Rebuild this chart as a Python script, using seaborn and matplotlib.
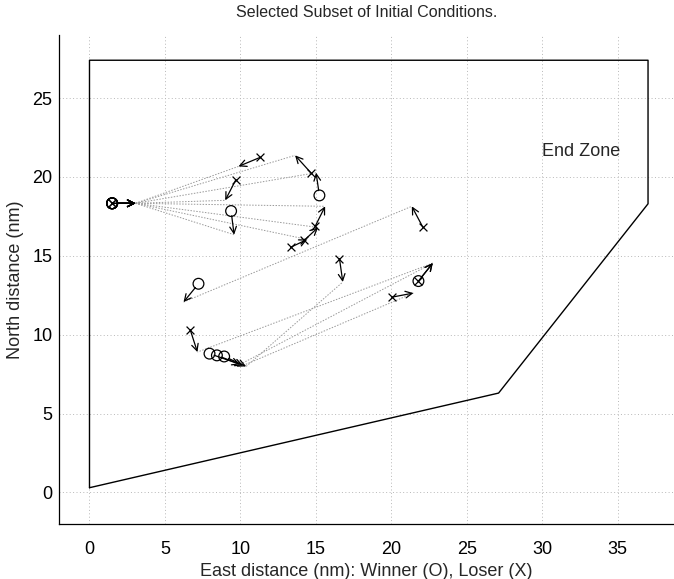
import matplotlib
matplotlib.use("Agg")
import matplotlib.pyplot as plt
import seaborn as sns
import pandas as pd

# ---- data (nm) ----
# End-zone boundary
zone_x = [0.0, 27.1, 37.0, 37.0, 0.0, 0.0]
zone_y = [0.3, 6.3, 18.3, 27.4, 27.4, 0.3]

# scenarios: winner (O) position & heading tip, loser (X) position & heading tip
win_x     = [1.50, 1.50, 9.38, 1.50, 15.23, 1.50, 1.50, 1.50, 21.79, 7.95, 8.44, 8.92, 7.22]
win_y     = [18.33, 18.33, 17.84, 18.33, 18.83, 18.33, 18.33, 18.33, 13.40, 8.80, 8.69, 8.62, 13.23]
win_tip_x = [3.05, 3.05, 9.58, 3.05, 15.01, 3.05, 3.05, 3.05, 22.74, 9.98, 10.18, 10.38, 6.23]
win_tip_y = [18.33, 18.33, 16.34, 18.33, 20.27, 18.33, 18.33, 18.33, 14.54, 8.12, 8.05, 7.99, 12.07]

los_x     = [11.30, 9.70, 1.50, 14.66, 1.50, 14.95, 14.22, 13.32, 6.67, 21.79, 20.03, 16.56, 22.08]
los_y     = [21.24, 19.83, 18.33, 20.27, 18.33, 16.87, 15.98, 15.54, 10.32, 13.40, 12.38, 14.82, 16.82]
los_tip_x = [9.87, 8.99, 3.05, 13.62, 3.05, 15.61, 15.14, 14.42, 7.15, 22.74, 21.46, 16.78, 21.35]
los_tip_y = [20.67, 18.52, 18.33, 21.37, 18.33, 18.14, 16.80, 16.04, 8.90, 14.54, 12.64, 13.34, 18.14]

x_ticks = [0, 5, 10, 15, 20, 25, 30, 35]
y_ticks = [0, 5, 10, 15, 20, 25]

sns.set_style("white")
plt.rcParams['font.family'] = ['Liberation Sans', 'DejaVu Sans']

fig = plt.figure(figsize=(6.74, 5.79), dpi=100)
ax = fig.add_axes([59.3 / 674, 55 / 579, 1 - 59.3 / 674, (524 - 35) / 579])

# grid
for xv in x_ticks:
    ax.axvline(xv, color="#b8b8b8", lw=0.7, ls=(0, (1, 2.5)), zorder=0)
for yv in y_ticks:
    ax.axhline(yv, color="#b8b8b8", lw=0.7, ls=(0, (1, 2.5)), zorder=0)

# end zone
zone = pd.DataFrame({"x": zone_x, "y": zone_y})
sns.lineplot(data=zone, x="x", y="y", sort=False, estimator=None, color="black",
             lw=1.0, ax=ax)

# line-of-sight links between heading tips
links = []
for i in range(len(win_x)):
    links.append({"x": win_tip_x[i], "y": win_tip_y[i], "id": i})
    links.append({"x": los_tip_x[i], "y": los_tip_y[i], "id": i})
links = pd.DataFrame(links)
sns.lineplot(data=links, x="x", y="y", units="id", estimator=None, sort=False,
             color="#999999", lw=0.7, ls=(0, (1.5, 1.5)), ax=ax, legend=False)

# heading arrows
for i in range(len(win_x)):
    ax.annotate("", xy=(win_tip_x[i], win_tip_y[i]), xytext=(win_x[i], win_y[i]),
                arrowprops=dict(arrowstyle="->", color="black", lw=0.9,
                                shrinkA=3.5, shrinkB=0, mutation_scale=12))
    ax.annotate("", xy=(los_tip_x[i], los_tip_y[i]), xytext=(los_x[i], los_y[i]),
                arrowprops=dict(arrowstyle="->", color="black", lw=0.9,
                                shrinkA=0, shrinkB=0, mutation_scale=12))

# markers
wins = pd.DataFrame({"x": win_x, "y": win_y})
loss = pd.DataFrame({"x": los_x, "y": los_y})
sns.scatterplot(data=wins, x="x", y="y", marker="o", s=60, facecolor="none",
                edgecolor="black", linewidth=0.9, ax=ax, zorder=5)
sns.scatterplot(data=loss, x="x", y="y", marker="x", s=32, color="black",
                linewidth=0.9, ax=ax, zorder=5)

ax.text(32.6, 21.6, "End Zone", fontsize=13, ha="center", va="center")

ax.set_xlim(-2, 38.72)
ax.set_ylim(-2, 29)
ax.set_xticks(x_ticks)
ax.set_yticks(y_ticks)
ax.tick_params(direction="in", length=4, width=0.8, labelsize=13, colors="black")
ax.tick_params(axis="x", pad=12)
ax.tick_params(axis="y", pad=5)
for s in ["top", "right"]:
    ax.spines[s].set_visible(False)
for s in ["left", "bottom"]:
    ax.spines[s].set_color("black")
    ax.spines[s].set_linewidth(0.9)

ax.set_xlabel("East distance (nm): Winner (O), Loser (X)", fontsize=13, labelpad=4)
ax.set_ylabel("North distance (nm)", fontsize=13, labelpad=6)
ax.set_title("Selected Subset of Initial Conditions.", fontsize=11.5, pad=13)

fig.savefig("out.png", dpi=100)
